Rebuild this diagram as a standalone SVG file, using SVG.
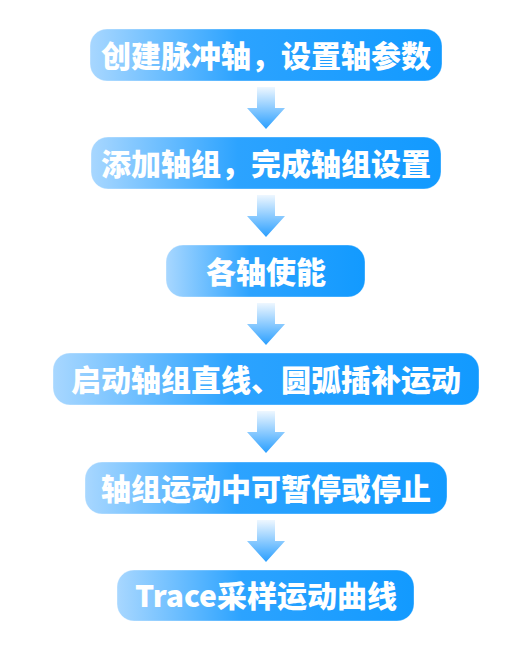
<svg xmlns="http://www.w3.org/2000/svg" width="532" height="655" viewBox="0 0 532 655">
<defs>
<linearGradient id="boxg" x1="0" y1="0" x2="1" y2="0">
<stop offset="0" stop-color="#a8d7ff"/>
<stop offset="0.42" stop-color="#2ca3ff"/>
<stop offset="1" stop-color="#129aff"/>
</linearGradient>
<linearGradient id="arrg" x1="0" y1="0" x2="0" y2="1">
<stop offset="0" stop-color="#eef7ff"/>
<stop offset="0.5" stop-color="#8ccbff"/>
<stop offset="1" stop-color="#2a9fff"/>
</linearGradient>
<path id="arrow" d="M257,0 L275,0 L275,21 L285,21 L266,42 L247,21 L257,21 Z"/>
</defs>
<style>
.box{fill:url(#boxg);stroke:#ffffff;stroke-opacity:0.35;stroke-width:1}
.lbl{font-family:"Noto Sans CJK SC","Noto Sans",sans-serif;font-weight:900;font-size:30px;fill:#ffffff;text-anchor:middle}
.arr{fill:url(#arrg)}
</style>
<rect width="532" height="655" fill="#ffffff"/>
<g id="connectors">
<use href="#arrow" class="arr" transform="translate(0,87)"/>
<use href="#arrow" class="arr" transform="translate(0,195)"/>
<use href="#arrow" class="arr" transform="translate(0,303)"/>
<use href="#arrow" class="arr" transform="translate(0,411)"/>
<use href="#arrow" class="arr" transform="translate(0,520)"/>
</g>
<g id="n1"><rect class="box" x="90" y="29" width="352" height="52" rx="17"/><text class="lbl" x="266" y="67">创建脉冲轴，设置轴参数</text></g>
<g id="n2"><rect class="box" x="91" y="137" width="350" height="52" rx="17"/><text class="lbl" x="266" y="175">添加轴组，完成轴组设置</text></g>
<g id="n3"><rect class="box" x="166" y="245" width="199" height="52" rx="17"/><text class="lbl" x="266" y="283">各轴使能</text></g>
<g id="n4"><rect class="box" x="53" y="353" width="426" height="52" rx="17"/><text class="lbl" x="266" y="391">启动轴组直线、圆弧插补运动</text></g>
<g id="n5"><rect class="box" x="85" y="462" width="362" height="52" rx="17"/><text class="lbl" x="266" y="500">轴组运动中可暂停或停止</text></g>
<g id="n6"><rect class="box" x="117" y="570" width="297" height="51" rx="17"/><text class="lbl" x="266" y="607">Trace采样运动曲线</text></g>
</svg>
